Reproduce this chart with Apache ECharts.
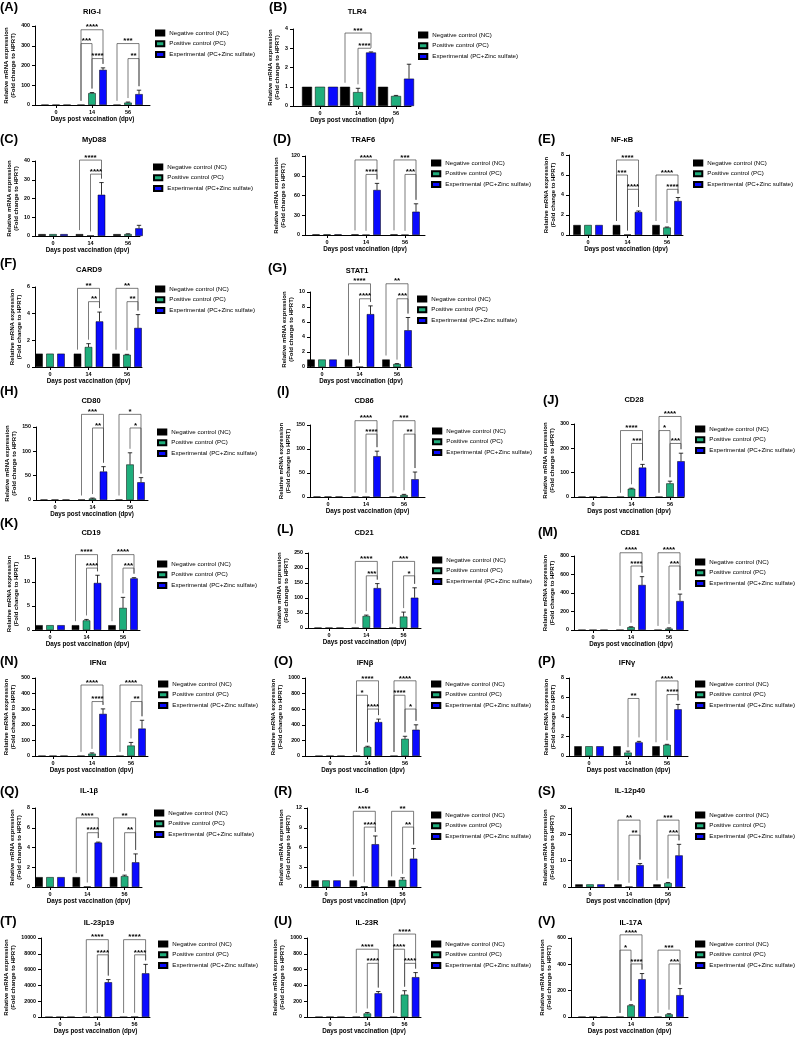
<!DOCTYPE html>
<html><head><meta charset="utf-8">
<script src="https://cdn.jsdelivr.net/npm/echarts@6/dist/echarts.min.js"></script>
<style>html,body{margin:0;padding:0;background:#fff}#c{width:796px;height:1042px}</style>
</head><body><div id="c"></div>
<script>
// ---------------- DATA ----------------
const days = ['0', '14', '56'];
const seriesNames = ['Negative control (NC)', 'Positive control (PC)', 'Experimental (PC+Zinc sulfate)'];
const letters = ['A','B','C','D','E','F','G','H','I','J','K','L','M','N','O','P','Q','R','S','T','U','V'];
const genes = ['RIG-I','TLR4','MyD88','TRAF6','NF-\u03baB','CARD9','STAT1','CD80','CD86','CD28','CD19','CD21','CD81','IFN\u03b1','IFN\u03b2','IFN\u03b3','IL-1\u03b2','IL-6','IL-12p40','IL-23p19','IL-23R','IL-17A'];
const yMax  = [400, 4, 40, 120, 8, 6, 10, 150, 150, 300, 15, 250, 800, 500, 1000, 8, 8, 12, 30, 10000, 1000, 600];
const yStep = [100, 1, 10, 30, 2, 2, 2, 50, 50, 100, 5, 50, 200, 100, 200, 2, 2, 3, 10, 2000, 200, 200];

// mean per day [0, 14, 56]
const ncMean = [[1,1,1],[1,1,1],[1,1,1],[1,1,1],[1,1,1],[1,1,1],[1,1,1],[1,1,1],[1,1,1],[1,1,1],[1,1,1],[1,1,1],[1,1,1],[1,1,1],[1,1,1],[1,1,1],[1,1,1],[1,1,1],[1,1,1],[1,1,1],[1,1,1],[1,1,1]];
const ncErr  = [[0,0,0],[0,0,0],[0,0,0],[0,0,0],[0,0,0],[0,0,0],[0,0,0],[0,0,0],[0,0,0],[0,0,0],[0,0,0],[0,0,0],[0,0,0],[0,0,0],[0,0,0],[0,0,0],[0,0,0],[0,0,0],[0,0,0],[0,0,0],[0,0,0],[0,0,0]];
const pcMean = [[1,60,12],[1,0.72,0.52],[1,0.3,1],[1,0.3,0.3],[1,0.05,0.75],[1,1.5,0.92],[1,0.02,0.4],[1,3,73],[1,0.5,4],[1,34,56],[1,2,4.6],[1,40,38],[1,30,15],[1,15,67],[1,115,220],[1,0.35,1.15],[1,0.05,1.1],[1,0.1,1.1],[1,0.1,1.5],[1,1,30],[1,45,283],[1,88,20]];
const pcErr  = [[0,3,3],[0,0.2,0.03],[0,0,0.2],[0,0,0],[0,0,0.05],[0,0.25,0.03],[0,0,0.05],[0,1,24],[0,0,1.5],[0,2,9],[0,0.2,2.2],[0,3,15],[0,5,8],[0,5,20],[0,10,33],[0,0.15,0.05],[0,0,0.1],[0,0,0.3],[0,0,0.2],[0,0,0],[0,12,50],[0,5,5]];
const expMean = [[1,178,55],[1,2.78,1.42],[1,22,4.1],[1,68.4,35.4],[1,2.3,3.4],[1,3.42,2.93],[1,7.05,4.9],[1,58.5,36.5],[1,85,37],[1,121,147],[1,9.8,10.75],[1,133,101],[1,487,313],[1,270,176],[1,435,337],[1,1.4,4.79],[1,4.5,2.5],[1,6.5,4.3],[1,8.3,12],[1,4400,5530],[1,300,504],[1,287,166]];
const expErr  = [[0,10,20],[0,0.03,0.75],[0,6.5,1.6],[0,10,12],[0,0.1,0.35],[0,0.7,1.0],[0,1.1,1.7],[0,10,9.5],[0,10.5,15],[0,13,33],[0,1.6,0.15],[0,15,33],[0,90,75],[0,32,53],[0,38,63],[0,0.1,0.5],[0,0.05,0.85],[0,1.25,1.55],[0,0.6,4.2],[0,335,1130],[0,22,58],[0,43,50]];

// significance brackets: [dayIndex, groupFrom, groupTo, height, label]  (0=NC,1=PC,2=EXP)
const sig = [
 [[1,0,2,381,'****'],[1,0,1,311,'***'],[1,1,2,235,'****'],[2,0,2,311,'***'],[2,1,2,235,'**']],
 [[1,0,2,3.79,'***'],[1,1,2,3.0,'****']],
 [[1,0,2,40.5,'****'],[1,1,2,33,'****']],
 [[1,0,2,114,'****'],[1,1,2,92,'****'],[2,0,2,114,'***'],[2,1,2,92,'***']],
 [[1,0,2,7.5,'****'],[1,0,1,6.0,'***'],[1,1,2,4.57,'****'],[2,0,2,6.0,'****'],[2,1,2,4.57,'****']],
 [[1,0,2,5.9,'**'],[1,1,2,4.9,'**'],[2,0,2,5.9,'**'],[2,1,2,4.9,'**']],
 [[1,0,2,11.1,'****'],[1,1,2,9.1,'****'],[2,0,2,11.1,'**'],[2,1,2,9.1,'***']],
 [[1,0,2,176,'***'],[1,1,2,148,'**'],[2,0,2,176,'*'],[2,1,2,148,'*']],
 [[1,0,2,159,'****'],[1,1,2,131,'****'],[2,0,2,159,'***'],[2,1,2,131,'**']],
 [[1,0,2,273,'****'],[1,1,2,220,'***'],[2,0,2,331,'****'],[2,0,1,273,'*'],[2,1,2,220,'***']],
 [[1,0,2,15.7,'****'],[1,1,2,12.9,'****'],[2,0,2,15.7,'****'],[2,1,2,12.9,'***']],
 [[1,0,2,222,'****'],[1,1,2,174,'***'],[2,0,2,222,'***'],[2,1,2,174,'*']],
 [[1,0,2,835,'****'],[1,1,2,692,'****'],[2,0,2,835,'****'],[2,1,2,692,'***']],
 [[1,0,2,455,'****'],[1,1,2,349,'****'],[2,0,2,455,'****'],[2,1,2,349,'**']],
 [[1,0,2,964,'****'],[1,0,1,779,'*'],[1,1,2,602,'****'],[2,0,2,964,'****'],[2,0,1,779,'****'],[2,1,2,602,'*']],
 [[1,1,2,5.9,'**'],[2,0,2,7.7,'****'],[2,1,2,6.3,'****']],
 [[1,0,2,7.0,'****'],[1,1,2,5.5,'****'],[2,0,2,7.0,'**'],[2,1,2,5.5,'**']],
 [[1,0,2,11.5,'****'],[1,1,2,9.1,'****'],[2,0,2,11.5,'**'],[2,1,2,9.1,'**']],
 [[1,0,2,25.4,'**'],[1,1,2,19.7,'**'],[2,0,2,25.4,'***'],[2,1,2,19.7,'***']],
 [[1,0,2,9790,'****'],[1,1,2,7870,'****'],[2,0,2,9790,'****'],[2,1,2,7870,'****']],
 [[1,0,2,858,'****'],[1,1,2,679,'****'],[2,0,2,1050,'****'],[2,0,1,858,'****'],[2,1,2,679,'****']],
 [[1,0,2,624,'****'],[1,0,1,508,'*'],[1,1,2,403,'****'],[2,0,2,508,'***'],[2,1,2,403,'***']]
];

// ---------------- LAYOUT (pixels) ----------------
// [yAxisX, xAxisEndX, day0CenterX, daySpacing, topY, zeroY]
const plotBox = [
 [35,150,56,36,26,105],[293,411,320,38,29,106],
 [35,140,53,37.5,161,236],[305,425,327,39,156,235],[569,683,588,39.5,155,235],
 [35,142,50,38.5,287,367],[310,412,322,37.5,292,367],
 [36,148,55,37.5,427,500],[310,425,328,38,425,497],[574,684,593,38.5,424,497],
 [35,140,50,36.5,558,630],[308,421,329,37.3,553,628],[574,688,593,38,556,630],
 [35,148,53,39,678,756],[305,421,330,37.5,678,756],[569,688,589,39,678,756],
 [35,142,50,37.3,808,887],[307,421,326,38.3,808,887],[571,685,590,39,808,887],
 [41,150,60,37.3,938,1017],[307,421,330,37.3,938,1017],[571,688,593,38,938,1017]
];
const titlePos = [[92,12],[357,12],[94,140],[363,140],[622,140],[89,270],[357,271],[91,401],[364,401],[634,400],[91,533],[364,533],[630,533],[98,663],[365,663],[627,663],[89,791],[362,791],[630,791],[99,923],[367,923],[631,923]];
const letterPos = [[0,7],[269,7],[0,139],[273,139],[538,139],[0,263],[268,268],[0,391],[277,391],[543,400],[0,523],[277,529],[538,532],[0,661],[274,661],[538,661],[0,791],[274,791],[538,791],[0,921],[274,921],[538,921]];
const legendPos = [[155,32],[418,34],[153,166],[431,162],[693,162],[155,288],[417,298],[157,431],[432,430],[695,428],[157,563],[432,559],[695,561],[158,683],[431,683],[695,683],[154,812],[431,814],[695,814],[158,943],[431,943],[695,943]];

const FONT = "'Liberation Sans', Arial, Helvetica, sans-serif";
const colors = ['#000000', '#1fae7c', '#0a0aff'];
const means = [ncMean, pcMean, expMean];
const errs = [ncErr, pcErr, expErr];

const chart = echarts.init(document.getElementById('c'), null, {renderer: 'canvas', width: 796, height: 1042});
const option = {animation: false, backgroundColor: '#fff', grid: [], xAxis: [], yAxis: [], series: [], legend: [], graphic: {elements: []}};

genes.forEach((gene, p) => {
  const [ax, end, c0, sp, top, bot] = plotBox[p];
  const bw = p === 1 ? 10 : 7.5;
  const step = p === 1 ? 13 : 11;
  option.grid.push({left: ax, top: top, width: end - ax, height: bot - top, containLabel: false});
  option.xAxis.push({
    type: 'value', gridIndex: p, min: (ax - c0) / sp, max: (end - c0) / sp,
    splitLine: {show: false},
    axisLine: {show: true, onZero: false, lineStyle: {color: '#000', width: 1}},
    axisTick: {show: true, customValues: [0, 1, 2], length: 3, lineStyle: {color: '#000', width: 1}},
    axisLabel: {customValues: [0, 1, 2], formatter: v => days[Math.round(v)], fontSize: 5.5, fontWeight: 'bold', color: '#000', margin: 4, fontFamily: FONT},
    name: 'Days post vaccination (dpv)', nameLocation: 'middle', nameGap: 11,
    nameTextStyle: {fontSize: 6.3, fontWeight: 'bold', color: '#000', fontFamily: FONT}
  });
  const chars = String(yMax[p]).length;
  option.yAxis.push({
    type: 'value', gridIndex: p, min: 0, max: yMax[p], interval: yStep[p],
    splitLine: {show: false},
    axisLine: {show: true, onZero: false, lineStyle: {color: '#000', width: 1}},
    axisTick: {show: true, length: 3, lineStyle: {color: '#000', width: 1}},
    axisLabel: {formatter: v => String(v), fontSize: 5.3, fontWeight: 'bold', color: '#000', margin: 5, fontFamily: FONT},
    name: 'Relative mRNA expression\n(Fold change to HPRT)', nameLocation: 'middle', nameRotate: 90,
    nameGap: chars * 2.9 + 7,
    nameTextStyle: {fontSize: 6, fontWeight: 'bold', color: '#000', lineHeight: 7.5, fontFamily: FONT}
  });
  for (let k = 0; k < 3; k++) {
    option.series.push({
      type: 'bar', name: seriesNames[k], xAxisIndex: p, yAxisIndex: p,
      barWidth: bw, barGap: ((step - bw) / bw * 100) + '%',
      data: [0, 1, 2].map(g => [g, means[k][p][g]]),
      itemStyle: {color: colors[k], borderColor: '#000', borderWidth: 0.5},
      silent: true, z: 2
    });
  }
  // error bars (mean + SD)
  const errData = [];
  for (let k = 0; k < 3; k++) for (let g = 0; g < 3; g++) if (errs[k][p][g] > 0) errData.push([g, means[k][p][g], errs[k][p][g], k]);
  option.series.push({
    type: 'custom', xAxisIndex: p, yAxisIndex: p, clip: false, silent: true, z: 5,
    data: errData,
    renderItem: (params, api) => {
      const g = api.value(0), m = api.value(1), e = api.value(2), k = api.value(3);
      const b = api.coord([g, m]), t = api.coord([g, m + e]);
      const x = b[0] + (k - 1) * step;
      return {type: 'group', children: [
        {type: 'line', shape: {x1: x, y1: b[1], x2: x, y2: t[1]}, style: {stroke: '#000', lineWidth: 0.8}},
        {type: 'line', shape: {x1: x - 2.2, y1: t[1], x2: x + 2.2, y2: t[1]}, style: {stroke: '#000', lineWidth: 0.8}}
      ]};
    }
  });
  // significance brackets
  option.series.push({
    type: 'custom', xAxisIndex: p, yAxisIndex: p, clip: false, silent: true, z: 6,
    data: sig[p].map(s => [s[0], s[3]]),
    renderItem: (params, api) => {
      const s = sig[p][params.dataIndex];
      const g = s[0], i = s[1], j = s[2], h = s[3];
      const yl = api.coord([g, h])[1];
      const cx = api.coord([g, 0])[0];
      const xi = cx + (i - 1) * step, xj = cx + (j - 1) * step;
      const ti = api.coord([g, means[i][p][g] + errs[i][p][g]])[1] - 4;
      const tj = api.coord([g, means[j][p][g] + errs[j][p][g]])[1] - 4;
      return {type: 'group', children: [
        {type: 'polyline', shape: {points: [[xi, Math.max(ti, yl)], [xi, yl], [xj, yl], [xj, Math.max(tj, yl)]]}, style: {stroke: '#444', lineWidth: 0.7, fill: null}},
        {type: 'text', style: {text: s[4], x: (xi + xj) / 2, y: yl + 1.5, align: 'center', verticalAlign: 'bottom', font: 'bold 8px ' + FONT, fill: '#000'}}
      ]};
    }
  });
  option.legend.push({
    left: legendPos[p][0], top: legendPos[p][1] - 2.5, orient: 'vertical', padding: 0,
    itemWidth: 8.3, itemHeight: 5, itemGap: 3.7, icon: 'rect', selectedMode: false,
    data: seriesNames,
    textStyle: {fontSize: 6.2, color: '#000', fontFamily: FONT, lineHeight: 5, padding: 0}
  });
  option.graphic.elements.push({type: 'text', x: letterPos[p][0], y: letterPos[p][1], silent: true,
    style: {text: '(' + letters[p] + ')', font: 'bold 13px ' + FONT, fill: '#000', verticalAlign: 'middle'}});
  option.graphic.elements.push({type: 'text', x: titlePos[p][0], y: titlePos[p][1], silent: true,
    style: {text: gene, font: 'bold 7.5px ' + FONT, fill: '#000', align: 'center', verticalAlign: 'middle'}});
});

chart.setOption(option);
</script></body></html>
